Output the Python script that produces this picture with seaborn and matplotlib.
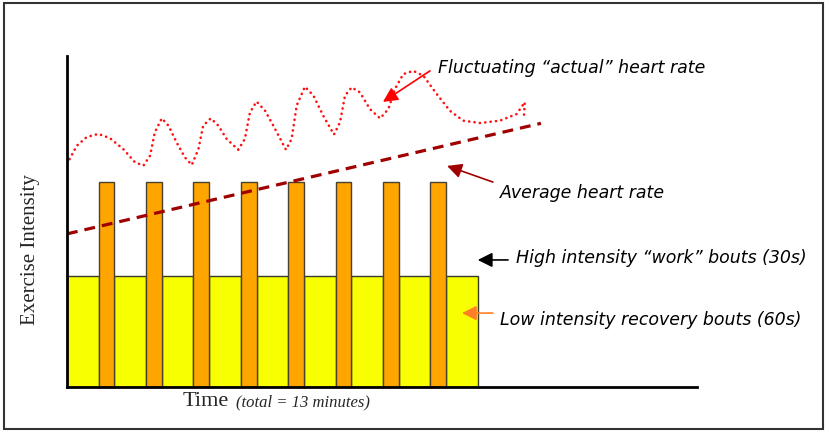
import numpy as np
import pandas as pd
import seaborn as sns
import matplotlib.pyplot as plt
from matplotlib.patches import Rectangle

# Interval session: 60 s recovery, 30 s work, 13 minutes in total
recovery_start = [0, 1.5, 3, 4.5, 6, 7.5, 9, 10.5, 12]
recovery_len = [1, 1, 1, 1, 1, 1, 1, 1, 1]
work_start = [1, 2.5, 4, 5.5, 7, 8.5, 10, 11.5]
work_len = [0.5, 0.5, 0.5, 0.5, 0.5, 0.5, 0.5, 0.5]
low_level = 33.6
high_level = 62.1

# average heart rate (straight trend)
avg_t = [0, 15]
avg_v = [46.4, 79.9]

hr_t = [0.0, 0.31, 0.62, 0.99, 1.36, 1.78, 2.15, 2.42, 2.63, 2.78, 3.00, 3.21,
        3.47, 3.73, 3.95, 4.16, 4.31, 4.55, 4.79, 5.05, 5.42, 5.63, 5.79, 6.00,
        6.27, 6.53, 6.93, 7.11, 7.27, 7.53, 7.80, 8.11, 8.45, 8.64, 8.80, 9.01,
        9.27, 9.59, 9.91, 10.17, 10.38, 10.64, 10.96, 11.28, 11.70, 12.12,
        12.54, 13.07, 13.70, 14.23, 14.49, 14.46]
hr_v = [67.6, 73.1, 75.7, 76.7, 75.4, 72.1, 68.1, 67.1, 70.1, 77.2, 81.4, 79.2,
        74.1, 69.6, 67.3, 72.1, 79.2, 81.4, 79.2, 75.2, 71.9, 75.2, 83.2, 86.5,
        83.7, 79.2, 71.9, 75.2, 85.3, 91.0, 88.3, 82.2, 76.5, 80.2, 88.3, 90.8,
        89.3, 84.2, 81.4, 84.2, 90.3, 94.8, 95.8, 94.3, 88.8, 83.7,
        80.7, 80.0, 80.7, 82.7, 86.3, 81.7]

hr_df = pd.DataFrame({"t": hr_t, "v": hr_v})
avg_df = pd.DataFrame({"t": avg_t, "v": avg_v})

sns.set_theme(style="white")
plt.rcParams["font.family"] = ["DejaVu Sans"]

fig = plt.figure(figsize=(8.3, 4.35), dpi=100)
ax = fig.add_axes([67 / 830, 1 - 388 / 435, 630 / 830, 331 / 435])
ax.set_xlim(0, 19.94)
ax.set_ylim(0, 100.3)

# bouts
ax.bar(recovery_start, [low_level] * len(recovery_start), width=recovery_len,
       align="edge", color="#F8FF00", edgecolor="#3a3a2a", linewidth=1, zorder=2)
ax.bar(work_start, [high_level] * len(work_start), width=work_len,
       align="edge", color="#FFA500", edgecolor="#4a4030", linewidth=1, zorder=3)

# heart rate lines
sns.lineplot(data=avg_df, x="t", y="v", ax=ax, color="#A00000", linewidth=2.3,
             linestyle=(0, (3.4, 2.2)), zorder=4)
sns.lineplot(data=hr_df, x="t", y="v", ax=ax, sort=False, estimator=None,
             color="#FF1010", linewidth=1.9, linestyle=(0, (0.05, 2.0)),
             dash_capstyle="round", zorder=4)

for side in ["top", "right"]:
    ax.spines[side].set_visible(False)
for side in ["left", "bottom"]:
    ax.spines[side].set_color("black")
    ax.spines[side].set_linewidth(2)
    ax.spines[side].set_zorder(5)
ax.set_xticks([])
ax.set_yticks([])
ax.set_xlabel("")
ax.set_ylabel("")

# annotations: (text, text pos, arrow tail, arrow head, colour)
notes = [
    ("Fluctuating \u201cactual\u201d heart rate", (11.74, 97.0), (11.49, 95.8), (10.0, 86.4), "#FF0000"),
    ("Average heart rate", (13.70, 59.1), (13.48, 62.1), (12.03, 67.0), "#A00000"),
    ("High intensity \u201cwork\u201d bouts (30s)", (14.21, 39.4), (13.96, 38.5), (13.0, 38.5), "black"),
    ("Low intensity recovery bouts (60s)", (13.70, 20.6), (13.48, 22.4), (12.5, 22.4), "#FF7F27"),
]
for label, txt_pos, tail, head, col in notes:
    ax.annotate("", xy=head, xytext=tail,
                arrowprops=dict(arrowstyle="-|>", color=col, lw=1.2,
                                mutation_scale=22, shrinkA=0, shrinkB=0),
                zorder=6, annotation_clip=False)
    ax.text(txt_pos[0], txt_pos[1], label, fontsize=12.5, style="italic",
            va="center", ha="left", color="black", clip_on=False)

# axis titles
fig.text(183 / 830, 1 - 406 / 435, "Time", family="Liberation Serif",
         fontsize=16, ha="left", va="baseline")
fig.text(236 / 830, 1 - 406 / 435, "(total = 13 minutes)",
         family="Liberation Serif", style="italic", fontsize=12,
         ha="left", va="baseline")
fig.text(30 / 830, 1 - 250 / 435, "Exercise Intensity", family="Liberation Serif",
         fontsize=15, rotation=90, ha="center", va="center")

# frame around the whole picture
fig.patches.append(Rectangle((3.5 / 830, 1 - 430 / 435), 819.5 / 830, 426 / 435,
                             transform=fig.transFigure, fill=False,
                             edgecolor="#333333", linewidth=1.5))

fig.savefig("out.png", dpi=100)
